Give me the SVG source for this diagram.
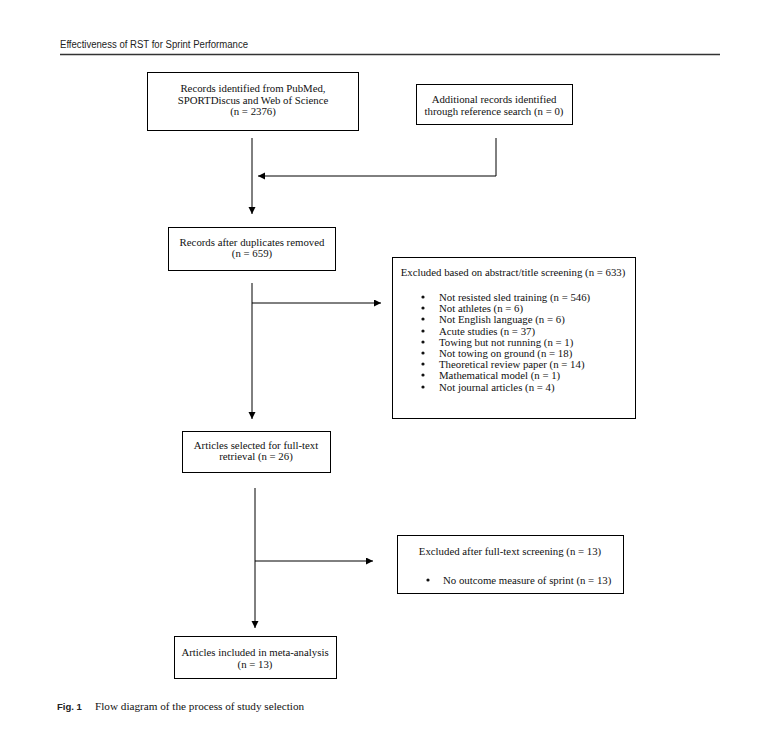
<svg xmlns="http://www.w3.org/2000/svg" width="784" height="741" viewBox="0 0 784 741">
<style>
.box{fill:#fff;stroke:#000;stroke-width:1}
.t{font-family:"Liberation Serif","Times New Roman",serif;font-size:10.8px;fill:#111}
.c{text-anchor:middle}
.dot{fill:#111}
.ln{fill:none;stroke:#000;stroke-width:1}
.hdr{font-family:"Liberation Sans",Arial,sans-serif;font-size:10px;fill:#222}
</style>
<defs>
<marker id="ah" markerWidth="8" markerHeight="8" refX="7" refY="3.5" orient="auto" markerUnits="userSpaceOnUse">
<path d="M0,0 L7,3.5 L0,7 Z" fill="#000"/>
</marker>
</defs>
<rect width="784" height="741" fill="#fff"/>
<g id="header">
<text class="hdr" x="60" y="48" textLength="188" lengthAdjust="spacingAndGlyphs">Effectiveness of RST for Sprint Performance</text>
<line x1="60" y1="54.5" x2="720" y2="54.5" stroke="#333" stroke-width="1.6"/>
</g>
<g id="connectors">
<path class="ln" d="M252,138 V214" marker-end="url(#ah)"/>
<path class="ln" d="M496,138 V176 H258" marker-end="url(#ah)"/>
<path class="ln" d="M252,283 V419" marker-end="url(#ah)"/>
<path class="ln" d="M252,303 H381" marker-end="url(#ah)"/>
<path class="ln" d="M255,488 V628" marker-end="url(#ah)"/>
<path class="ln" d="M255,561 H373" marker-end="url(#ah)"/>
</g>
<g id="n1">
<rect class="box" x="147.5" y="72.5" width="211" height="58"/>
<text class="t c" x="253" y="92">Records identified from PubMed,</text>
<text class="t c" x="253" y="103.5">SPORTDiscus and Web of Science</text>
<text class="t c" x="253" y="115">(n = 2376)</text>
</g>
<g id="n2">
<rect class="box" x="416.5" y="84.5" width="156" height="40"/>
<text class="t c" x="494" y="102.5">Additional records identified</text>
<text class="t c" x="494" y="114.5">through reference search (n = 0)</text>
</g>
<g id="n3">
<rect class="box" x="168.5" y="227.5" width="167" height="43"/>
<text class="t c" x="252" y="245.5">Records after duplicates removed</text>
<text class="t c" x="252" y="257">(n = 659)</text>
</g>
<g id="n4">
<rect class="box" x="392.5" y="257.5" width="243" height="161"/>
<text class="t c" x="513" y="275.5">Excluded based on abstract/title screening (n = 633)</text>
<g class="dot">
<circle cx="423" cy="297" r="1.6"/>
<circle cx="423" cy="308" r="1.6"/>
<circle cx="423" cy="319" r="1.6"/>
<circle cx="423" cy="331" r="1.6"/>
<circle cx="423" cy="342" r="1.6"/>
<circle cx="423" cy="353" r="1.6"/>
<circle cx="423" cy="364" r="1.6"/>
<circle cx="423" cy="375" r="1.6"/>
<circle cx="423" cy="387" r="1.6"/>
</g>
<g class="t">
<text x="439" y="300.5">Not resisted sled training (n = 546)</text>
<text x="439" y="311.5">Not athletes (n = 6)</text>
<text x="439" y="322.5">Not English language (n = 6)</text>
<text x="439" y="334.5">Acute studies (n = 37)</text>
<text x="439" y="345.5">Towing but not running (n = 1)</text>
<text x="439" y="356.5">Not towing on ground (n = 18)</text>
<text x="439" y="367.5">Theoretical review paper (n = 14)</text>
<text x="439" y="378.5">Mathematical model (n = 1)</text>
<text x="439" y="390.5">Not journal articles (n = 4)</text>
</g>
</g>
<g id="n5">
<rect class="box" x="182.5" y="431.5" width="148" height="41"/>
<text class="t c" x="256" y="448.5">Articles selected for full-text</text>
<text class="t c" x="256" y="459.5">retrieval (n = 26)</text>
</g>
<g id="n6">
<rect class="box" x="397.5" y="535.5" width="226" height="58"/>
<text class="t c" x="510" y="554.5">Excluded after full-text screening (n = 13)</text>
<circle class="dot" cx="428" cy="580" r="1.6"/>
<text class="t" x="443" y="583.5">No outcome measure of sprint (n = 13)</text>
</g>
<g id="n7">
<rect class="box" x="174.5" y="636.5" width="162" height="42"/>
<text class="t c" x="255" y="655.5">Articles included in meta-analysis</text>
<text class="t c" x="255" y="667.5">(n = 13)</text>
</g>
<g id="caption">
<text x="57" y="710" font-family="Liberation Sans,Arial,sans-serif" font-size="9.5px" font-weight="bold" fill="#222">Fig. 1</text>
<text x="95" y="710" font-family="Liberation Serif,Times New Roman,serif" font-size="11.2px" fill="#111">Flow diagram of the process of study selection</text>
</g>
</svg>
